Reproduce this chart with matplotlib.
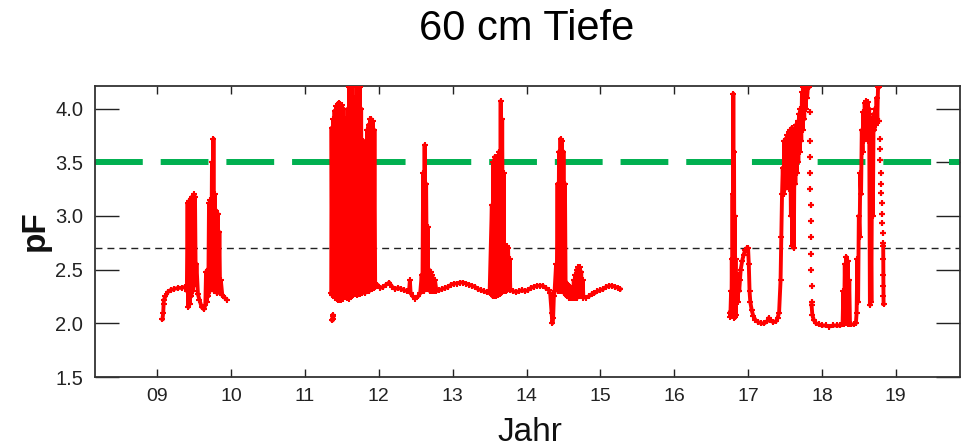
import matplotlib
matplotlib.use("Agg")
import matplotlib.pyplot as plt
import numpy as np

plt.rcParams['font.family'] = ['Liberation Sans', 'DejaVu Sans']

# ---------------- data ----------------
title = "60 cm Tiefe"
x_label = "Jahr"
y_label = "pF"
x_ticks = [2009, 2010, 2011, 2012, 2013, 2014, 2015, 2016, 2017, 2018, 2019]
x_tick_labels = ["09", "10", "11", "12", "13", "14", "15", "16", "17", "18", "19"]
y_ticks = [1.5, 2.0, 2.5, 3.0, 3.5, 4.0]
y_tick_labels = ["1.5", "2.0", "2.5", "3.0", "3.5", "4.0"]
threshold_green = 3.5
threshold_black = 2.7

seg2009_x = [2009.07, 2009.08, 2009.085, 2009.09, 2009.11, 2009.14, 2009.18, 2009.23, 2009.28, 2009.33, 2009.38, 2009.40,
             2009.41, 2009.42, 2009.43, 2009.44, 2009.45, 2009.46, 2009.47, 2009.48, 2009.49, 2009.50, 2009.51, 2009.52, 2009.53,
             2009.55, 2009.57, 2009.60, 2009.63, 2009.65,
             2009.66, 2009.67, 2009.68, 2009.69,
             2009.70, 2009.71, 2009.72, 2009.73, 2009.74, 2009.75, 2009.76, 2009.77, 2009.78, 2009.79, 2009.80, 2009.81,
             2009.82, 2009.83, 2009.84, 2009.85, 2009.86,
             2009.88, 2009.91, 2009.94]
seg2009_y = [2.04, 2.10, 2.18, 2.22, 2.25, 2.29, 2.31, 2.32, 2.33, 2.33, 2.34, 2.30,
             3.12, 2.15, 3.14, 2.18, 3.16, 2.25, 3.18, 2.30, 3.20, 2.35, 3.18, 2.40, 2.55,
             2.27, 2.22, 2.15, 2.13, 2.17,
             2.48, 2.20, 2.50, 2.25,
             3.12, 2.30, 3.15, 2.35, 3.50, 2.35, 3.72, 2.30, 3.20, 2.30, 3.05, 2.28,
             3.02, 2.30, 2.85, 2.28, 2.40,
             2.26, 2.24, 2.22]

seg2011_pt_x = [2011.37, 2011.375, 2011.38, 2011.385]
seg2011_pt_y = [2.03, 2.08, 2.04, 2.07]

seg2011_x = [2011.355,
             2011.36, 2011.37, 2011.38, 2011.39, 2011.40, 2011.41, 2011.42, 2011.43, 2011.44, 2011.45, 2011.46, 2011.47,
             2011.48, 2011.49, 2011.50, 2011.51, 2011.52, 2011.53,
             2011.54, 2011.55, 2011.56, 2011.57, 2011.58, 2011.59, 2011.60, 2011.61, 2011.62, 2011.63, 2011.64, 2011.65,
             2011.66, 2011.67, 2011.68, 2011.69, 2011.70, 2011.71, 2011.72, 2011.73, 2011.74, 2011.75, 2011.76, 2011.77,
             2011.78, 2011.79, 2011.80, 2011.81, 2011.82, 2011.83, 2011.84, 2011.85, 2011.86, 2011.87, 2011.88, 2011.89,
             2011.90, 2011.91, 2011.92, 2011.93, 2011.94, 2011.95,
             2011.98, 2012.02, 2012.06, 2012.10, 2012.14, 2012.18, 2012.22, 2012.26, 2012.30, 2012.34, 2012.38, 2012.41,
             2012.42, 2012.43, 2012.46, 2012.49, 2012.53, 2012.56,
             2012.58, 2012.59, 2012.60, 2012.61, 2012.62, 2012.63, 2012.64, 2012.65, 2012.66, 2012.67, 2012.68, 2012.69,
             2012.70, 2012.71, 2012.72, 2012.73, 2012.74, 2012.75, 2012.76, 2012.78,
             2012.82, 2012.86, 2012.90, 2012.94, 2012.98, 2013.02, 2013.06, 2013.10, 2013.14, 2013.18, 2013.22, 2013.26,
             2013.30, 2013.34, 2013.38, 2013.42, 2013.46, 2013.50,
             2013.53, 2013.54, 2013.55, 2013.56, 2013.57, 2013.58, 2013.59, 2013.60, 2013.61, 2013.62, 2013.63, 2013.64,
             2013.65, 2013.66, 2013.67, 2013.68, 2013.69, 2013.70, 2013.71, 2013.72, 2013.73, 2013.74, 2013.75, 2013.76,
             2013.77, 2013.78,
             2013.82, 2013.86, 2013.90, 2013.94, 2013.98, 2014.02, 2014.06, 2014.10, 2014.14, 2014.18, 2014.22, 2014.26,
             2014.30, 2014.32,
             2014.34, 2014.35, 2014.36, 2014.37, 2014.38, 2014.40,
             2014.41, 2014.42, 2014.43, 2014.44, 2014.45, 2014.46, 2014.47, 2014.48, 2014.49, 2014.50, 2014.51, 2014.52,
             2014.53,
             2014.54, 2014.55, 2014.56, 2014.57, 2014.58, 2014.59, 2014.60, 2014.61, 2014.62, 2014.63, 2014.64, 2014.65,
             2014.66, 2014.67, 2014.68, 2014.69, 2014.70, 2014.71, 2014.72, 2014.73, 2014.74, 2014.75, 2014.76, 2014.77,
             2014.80, 2014.84, 2014.88, 2014.92, 2014.96, 2015.00, 2015.04, 2015.08, 2015.12, 2015.16, 2015.20, 2015.24,
             2015.27]
seg2011_y = [2.28,
             3.82, 2.26, 3.90, 2.25, 3.98, 2.24, 4.02, 2.23, 4.04, 2.22, 4.05, 2.22,
             4.04, 2.22, 4.03, 2.23, 4.00, 2.25,
             3.60, 2.25, 3.90, 2.24, 4.00, 2.23, 4.20, 2.25, 4.20, 2.25, 4.20, 2.26,
             4.10, 2.27, 3.50, 2.27, 4.20, 2.26, 4.20, 2.27, 4.20, 2.27, 4.00, 2.28,
             3.70, 2.30, 3.40, 2.28, 3.70, 2.30, 3.80, 2.30, 3.85, 2.30, 3.90, 2.32,
             3.90, 2.32, 3.88, 2.33, 3.80, 2.34,
             2.36, 2.33, 2.34, 2.36, 2.38, 2.34, 2.32, 2.33, 2.32, 2.31, 2.30, 2.31,
             2.40, 2.28, 2.25, 2.23, 2.25, 2.28,
             2.45, 2.30, 3.40, 2.30, 3.66, 2.32, 3.30, 2.35, 2.90, 2.32, 2.50, 2.30,
             2.48, 2.30, 2.45, 2.30, 2.42, 2.30, 2.40, 2.30,
             2.31, 2.32, 2.33, 2.34, 2.36, 2.37, 2.37, 2.38, 2.38, 2.37, 2.36, 2.35,
             2.34, 2.32, 2.31, 2.30, 2.29, 2.28,
             3.10, 2.25, 3.50, 2.25, 3.55, 2.25, 3.55, 2.26, 3.52, 2.26, 3.60, 2.27,
             4.07, 2.28, 3.90, 2.30, 3.40, 2.30, 2.72, 2.30, 2.72, 2.31, 2.70, 2.32,
             2.60, 2.31,
             2.30, 2.29, 2.30, 2.31, 2.30, 2.31, 2.33, 2.34, 2.35, 2.35, 2.35, 2.33,
             2.31, 2.28,
             2.10, 2.00, 2.05, 2.25, 2.30, 2.55,
             2.40, 3.30, 2.30, 3.60, 2.30, 3.72, 2.30, 3.70, 2.30, 3.60, 2.28, 3.30,
             2.26,
             2.38, 2.25, 2.36, 2.24, 2.35, 2.24, 2.33, 2.24, 2.32, 2.24, 2.40, 2.24,
             2.45, 2.24, 2.50, 2.24, 2.52, 2.25, 2.52, 2.25, 2.48, 2.25, 2.40, 2.24,
             2.24, 2.25, 2.27, 2.28, 2.30, 2.31, 2.32, 2.34, 2.35, 2.35, 2.34, 2.33,
             2.32]

seg2016_x = [2016.755, 2016.76, 2016.77, 2016.775, 2016.78, 2016.785, 2016.79, 2016.795, 2016.80, 2016.805, 2016.81,
             2016.815, 2016.82, 2016.825, 2016.83, 2016.835, 2016.84, 2016.85, 2016.86, 2016.87, 2016.88, 2016.89,
             2016.90, 2016.92, 2016.94, 2016.96, 2016.98, 2017.00, 2017.01, 2017.02, 2017.03, 2017.05, 2017.07,
             2017.10, 2017.14, 2017.18, 2017.22, 2017.26, 2017.28, 2017.30, 2017.34, 2017.38, 2017.40, 2017.42,
             2017.44, 2017.45, 2017.46, 2017.47, 2017.48, 2017.49, 2017.50, 2017.51, 2017.52, 2017.53, 2017.54,
             2017.55, 2017.56, 2017.57, 2017.58, 2017.59, 2017.60, 2017.61, 2017.62, 2017.63, 2017.64, 2017.65,
             2017.66, 2017.67, 2017.68, 2017.69, 2017.70, 2017.71, 2017.72, 2017.73, 2017.74, 2017.75, 2017.76,
             2017.77, 2017.78, 2017.79, 2017.80, 2017.81, 2017.82]
seg2016_y = [2.10, 2.06, 2.30, 2.07, 2.60, 2.08, 3.20, 2.10, 4.14, 2.15, 3.60,
             2.05, 3.00, 2.06, 2.60, 2.08, 2.45, 2.30, 2.20, 2.45, 2.30, 2.40,
             2.50, 2.58, 2.64, 2.68, 2.70, 2.70, 2.55, 2.30, 2.20, 2.12, 2.07,
             2.03, 2.01, 2.00, 2.00, 2.02, 2.05, 2.03, 2.01, 2.02, 2.05, 2.10,
             2.40, 2.80, 3.20, 3.45, 3.20, 3.70, 3.25, 3.72, 3.30, 3.75, 3.35,
             3.78, 3.25, 3.80, 3.00, 3.82, 2.72, 3.80, 2.70, 3.82, 3.30, 3.85,
             3.40, 3.88, 3.50, 3.95, 3.60, 4.00, 3.70, 4.15, 3.80, 4.20, 3.90,
             4.20, 4.00, 4.20, 4.10, 4.20, 4.20]

drop2017_x = [2017.835, 2017.838, 2017.840, 2017.843, 2017.845, 2017.848, 2017.850, 2017.852, 2017.855, 2017.857,
              2017.859, 2017.861]
drop2017_y = [3.97, 3.70, 3.55, 3.40, 3.25, 3.10, 2.95, 2.80, 2.65, 2.50, 2.35, 2.20]

seg2018_x = [2017.86, 2017.87, 2017.89, 2017.92, 2017.96, 2018.00, 2018.05, 2018.10, 2018.15, 2018.20, 2018.25,
             2018.28, 2018.29, 2018.30, 2018.31, 2018.32, 2018.33, 2018.34, 2018.35, 2018.36, 2018.37, 2018.38,
             2018.40, 2018.43, 2018.46, 2018.47,
             2018.48, 2018.49, 2018.50, 2018.51, 2018.52, 2018.53, 2018.54, 2018.55, 2018.56, 2018.57, 2018.58,
             2018.59, 2018.60, 2018.61, 2018.62, 2018.63, 2018.64, 2018.65, 2018.66, 2018.67, 2018.68, 2018.69,
             2018.70, 2018.71, 2018.72, 2018.73, 2018.74, 2018.75, 2018.76, 2018.77]
seg2018_y = [2.17, 2.08, 2.03, 2.00, 1.99, 1.98, 1.98, 1.97, 1.98, 1.98, 1.98,
             1.99, 2.30, 1.99, 2.55, 2.00, 2.62, 2.00, 2.58, 1.99, 2.40, 1.99,
             1.99, 1.99, 2.00, 2.10,
             2.60, 2.20, 3.00, 2.80, 3.40, 3.20, 3.80, 3.60, 3.97, 3.70, 4.05,
             3.75, 4.07, 3.80, 4.06, 3.70, 4.00, 2.17, 3.00, 2.20, 3.90, 3.00,
             3.95, 3.80, 4.00, 3.85, 4.10, 3.90, 4.20, 4.20]

drop2018_x = [2018.775, 2018.780, 2018.785, 2018.790, 2018.795, 2018.800, 2018.805, 2018.810, 2018.815, 2018.820,
              2018.825, 2018.828]
drop2018_y = [3.88, 3.72, 3.62, 3.52, 3.40, 3.30, 3.21, 3.12, 3.02, 2.93, 2.84, 2.75]

tail2018_x = [2018.830, 2018.831, 2018.832, 2018.833, 2018.834, 2018.835]
tail2018_y = [2.72, 2.60, 2.45, 2.35, 2.25, 2.18]

# ---------------- figure ----------------
W, H = 961, 448
fig = plt.figure(figsize=(W / 100, H / 100), dpi=100)
ax = fig.add_axes([95 / W, (H - 377) / H, 865 / W, 291 / H])

red = "#ff0000"
line_kw = dict(color=red, lw=2.8, marker="+", ms=5, mew=1.5, zorder=3)
for xs, ys in [(seg2009_x, seg2009_y), (seg2011_pt_x, seg2011_pt_y), (seg2011_x, seg2011_y),
               (seg2016_x, seg2016_y), (seg2018_x, seg2018_y), (tail2018_x, tail2018_y)]:
    ax.plot(xs, ys, **line_kw)
for xs, ys in [(drop2017_x, drop2017_y), (drop2018_x, drop2018_y)]:
    ax.plot(xs, ys, color=red, ls="none", marker="+", ms=5, mew=1.6, zorder=3)

gl = ax.axhline(threshold_green, color="#00b050", lw=4.3, zorder=2)
gl.set_dashes((8.0, 3.0))
gl.set_dash_capstyle("butt")
bl = ax.axhline(threshold_black, color="#222222", lw=1.0, zorder=2)
bl.set_dashes((5.0, 3.6))

ax.set_xlim(2008.156, 2019.87)
ax.set_ylim(1.5, 4.21)

ax.set_xticks(x_ticks)
ax.set_xticklabels(x_tick_labels)
ax.set_yticks(y_ticks)
ax.set_yticklabels(y_tick_labels)

ax.tick_params(axis="x", direction="in", length=5.5, width=1.0, top=True, bottom=True,
               labelsize=14, pad=8, colors="#222222", labelcolor="#222222")
ax.tick_params(axis="y", direction="in", length=17.3, width=1.0, left=True, right=True,
               labelsize=14.5, pad=8.5, colors="#222222", labelcolor="#222222")
for s in ax.spines.values():
    s.set_linewidth(1.3)
    s.set_color("#333333")

fig.text(527 / W, 1 - 40 / H, title, ha="center", va="baseline", fontsize=30, color="black")
fig.text(530 / W, 1 - 441 / H, x_label, ha="center", va="baseline", fontsize=24, color="#111111")
fig.text(35 / W, 1 - 231 / H, y_label, ha="center", va="center", rotation=90,
         fontsize=24, fontweight="bold", color="#111111")

fig.savefig("out.png", dpi=100)
